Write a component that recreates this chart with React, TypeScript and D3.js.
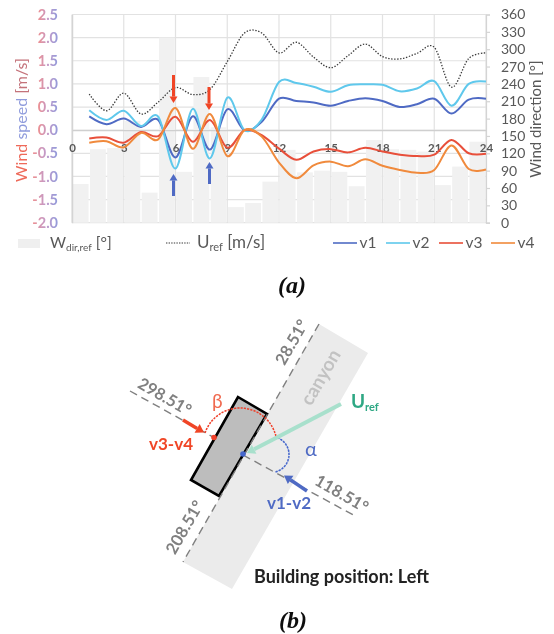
import React, { useRef, useEffect } from "react";
import {
  select,
  scaleLinear,
  scaleBand,
  line,
  arc,
  range,
  curveCardinal,
  axisLeft,
  axisRight,
  axisBottom,
} from "d3";

// hours the lines are sampled at, 1..24
const hours = range(1, 25);
const barHours = range(0, 24);
const speedTicks = [-2, -1.5, -1, -0.5, 0, 0.5, 1, 1.5, 2, 2.5];
const dirTicks = [0, 30, 60, 90, 120, 150, 180, 210, 240, 270, 300, 330, 360];
const hourTicks = [0, 3, 6, 9, 12, 15, 18, 21, 24];

const wdir = [67, 127, 129, 176, 52, 320, 88, 252, 165, 27, 34, 71, 126, 87, 90, 88, 63, 143, 127, 126, 123, 65, 97, 140];
const uref = [0.78, 0.42, 0.8, 0.35, 0.61, 0.92, 0.77, 0.88, 1.48, 2.1, 2.1, 1.67, 1.9, 1.58, 1.35, 1.61, 1.86, 1.59, 1.54, 1.66, 1.79, 0.93, 1.55, 1.67];
const v1 = [0.3, 0.13, 0.25, 0.07, 0.22, -0.59, 0.3, -0.42, 0.45, 0, 0.18, 0.68, 0.63, 0.6, 0.53, 0.63, 0.69, 0.63, 0.5, 0.56, 0.68, 0.36, 0.66, 0.68];
const v2 = [0.43, 0.22, 0.42, 0.09, 0.29, -0.83, 0.46, -0.61, 0.7, 0, 0.23, 1.04, 1.02, 0.94, 0.83, 0.97, 0.99, 0.98, 0.84, 0.9, 1.06, 0.53, 1.0, 1.05];
const v3 = [-0.18, -0.16, -0.27, -0.04, -0.13, 0.29, -0.25, 0.22, -0.38, 0, -0.11, -0.4, -0.64, -0.46, -0.41, -0.48, -0.38, -0.46, -0.53, -0.56, -0.53, -0.21, -0.5, -0.51];
const v4 = [-0.27, -0.24, -0.37, -0.06, -0.2, 0.48, -0.4, 0.35, -0.56, 0, -0.14, -0.7, -1.04, -0.76, -0.68, -0.78, -0.63, -0.77, -0.86, -0.92, -0.86, -0.33, -0.84, -0.85];

const BLUE = "#4f6bc4";
const CYAN = "#5fc8ec";
const RED = "#e8503a";
const ORANGE = "#f08a3c";
const GRAY = "#595959";
const ANGLE = "#808080";
const SANS = "Lato, sans-serif";

const series = [
  { name: "v1", values: v1, color: BLUE, legendX: 333 },
  { name: "v2", values: v2, color: CYAN, legendX: 386 },
  { name: "v3", values: v3, color: RED, legendX: 439 },
  { name: "v4", values: v4, color: ORANGE, legendX: 491 },
];

// chart frame
const left = 72;
const right = 486;
const top = 14.5;
const bottom = 222.7;

const xHour = scaleLinear().domain([0, 24]).range([left, right]);
const xBar = scaleBand<number>().domain(barHours).range([left, right]).paddingInner(0.08).paddingOuter(0.04);
const ySpeed = scaleLinear().domain([-2, 2.5]).range([bottom, top]);
const yDir = scaleLinear().domain([0, 360]).range([bottom, top]);

const makeLine = (values: number[]) =>
  line<number>()
    .x((_, i) => xHour(hours[i]))
    .y((d) => ySpeed(d))
    .curve(curveCardinal.tension(0))(values) || "";

// building sketch, panel (b)
const canyon = "319,324 368,353 232,589 183,562";
const building = "238,397 267,414 219,496 191,480";
const betaArc = arc()({ innerRadius: 37, outerRadius: 37, startAngle: (-71 * Math.PI) / 180, endAngle: (77 * Math.PI) / 180 }) || "";
const alphaArc = arc()({ innerRadius: 18, outerRadius: 18, startAngle: (13 * Math.PI) / 180, endAngle: (167 * Math.PI) / 180 }) || "";

const angleLabels = [
  { text: "28.51°", x: 293, y: 343, rotate: -60 },
  { text: "298.51°", x: 164, y: 398, rotate: 30 },
  { text: "118.51°", x: 341, y: 495, rotate: 30 },
  { text: "208.51°", x: 186, y: 528, rotate: -60 },
];

function Arrow({ x1, y1, x2, y2, color, width, head = 5 }: any) {
  // straight shaft with a triangular head at (x2, y2)
  const a = Math.atan2(y2 - y1, x2 - x1);
  const bx = x2 - Math.cos(a) * head * 1.6;
  const by = y2 - Math.sin(a) * head * 1.6;
  const nx = -Math.sin(a) * head;
  const ny = Math.cos(a) * head;
  return (
    <g>
      <line x1={x1} y1={y1} x2={bx} y2={by} stroke={color} strokeWidth={width} />
      <polygon points={`${x2},${y2} ${bx + nx},${by + ny} ${bx - nx},${by - ny}`} fill={color} />
    </g>
  );
}

export default function App() {
  const leftRef = useRef<SVGGElement>(null);
  const rightRef = useRef<SVGGElement>(null);
  const bottomRef = useRef<SVGGElement>(null);

  useEffect(() => {
    const gl = select(leftRef.current);
    gl.call(axisLeft(ySpeed).tickValues(speedTicks).tickFormat((d: any) => Number(d).toFixed(1)).tickSize(0).tickPadding(14) as any);
    gl.select(".domain").attr("stroke", "#d4d4d4").attr("stroke-width", 1.5);
    gl.selectAll("text")
      .attr("fill", "url(#speedTick)")
      .attr("font-family", SANS)
      .attr("font-size", 14.5)
      .attr("font-weight", 700);

    const gr = select(rightRef.current);
    gr.call(axisRight(yDir).tickValues(dirTicks).tickSize(4).tickPadding(11) as any);
    gr.selectAll(".domain, line").attr("stroke", "#d4d4d4").attr("stroke-width", 1.2);
    gr.selectAll("text").attr("fill", GRAY).attr("font-family", SANS).attr("font-size", 14);

    const gb = select(bottomRef.current);
    gb.call(axisBottom(xHour).tickValues(hourTicks).tickSize(0).tickPadding(13.5) as any);
    gb.select(".domain").attr("stroke", "#cfcfcf").attr("stroke-width", 1.2);
    gb.selectAll("text")
      .attr("fill", GRAY)
      .attr("font-family", SANS)
      .attr("font-size", 11.5)
      .attr("font-weight", 700);
  }, []);

  return (
    <svg
      width={554}
      height={634}
      style={{ position: "absolute", left: 0, top: 0 }}
      fontFamily={SANS}
    >
      <defs>
        <linearGradient id="speedTick" x1="0" x2="1" y1="0" y2="0">
          <stop offset="0" stopColor="#ee8f8f" />
          <stop offset="0.5" stopColor="#c49ac8" />
          <stop offset="1" stopColor="#8f9bdc" />
        </linearGradient>
        <filter id="soft" x="-2%" y="-2%" width="104%" height="104%">
          <feGaussianBlur stdDeviation="0.4" />
        </filter>
      </defs>

      <g filter="url(#soft)">
        {/* grid */}
        {speedTicks.map((t) => (
          <line key={t} x1={left} x2={right} y1={ySpeed(t)} y2={ySpeed(t)} stroke="#e2e2e2" strokeWidth={1.2} />
        ))}
        {hourTicks.map((t) => (
          <line key={t} x1={xHour(t)} x2={xHour(t)} y1={top} y2={bottom} stroke="#e2e2e2" strokeWidth={1.2} />
        ))}

        {/* wind direction bars */}
        {barHours.map((h, i) => (
          <rect
            key={h}
            x={xBar(h)}
            width={xBar.bandwidth()}
            y={yDir(wdir[i])}
            height={bottom - yDir(wdir[i])}
            fill="#f1f1f1"
          />
        ))}

        <g ref={leftRef} transform={`translate(${left},0)`} />
        <g ref={rightRef} transform={`translate(${right},0)`} />
        <g ref={bottomRef} transform={`translate(0,${ySpeed(0)})`} />

        {series.map((s) => (
          <path key={s.name} d={makeLine(s.values)} fill="none" stroke={s.color} strokeWidth={2} />
        ))}
        <path d={makeLine(uref)} fill="none" stroke="#3a3a3a" strokeWidth={1.3} strokeDasharray="1.4 1.6" />

        {/* arrows on the chart */}
        <Arrow x1={173.5} y1={75} x2={173.5} y2={103} color="#f04525" width={3} head={4} />
        <Arrow x1={209} y1={87} x2={209} y2={110} color="#f04525" width={3} head={4} />
        <Arrow x1={173.5} y1={196} x2={173.5} y2={174} color={BLUE} width={3} head={4} />
        <Arrow x1={209.5} y1={184} x2={209.5} y2={162} color={BLUE} width={3} head={4} />

        {/* axis titles */}
        <text transform="translate(27,120) rotate(-90)" textAnchor="middle" fontSize={16}>
          <tspan fill="#ee6a5a">Wind </tspan>
          <tspan fill="#8f9bdc">speed </tspan>
          <tspan fill="#c4727a">[m/s]</tspan>
        </text>
        <text transform="translate(541,119) rotate(-90)" textAnchor="middle" fontSize={15} fill={GRAY}>
          Wind direction [°]
        </text>

        {/* legend */}
        <rect x={18} y={239} width={22} height={9} fill="#efefef" />
        <text x={50} y={248} fontSize={15.5} fill={GRAY}>
          W<tspan fontSize={10} dy={2.5}>dir,ref</tspan>
          <tspan dy={-2.5}> [°]</tspan>
        </text>
        <line x1={166} x2={190} y1={243} y2={243} stroke="#3a3a3a" strokeWidth={1.2} strokeDasharray="1.4 1.2" />
        <text x={197} y={248} fontSize={17} fill={GRAY}>
          U<tspan fontSize={11} dy={2.5}>ref</tspan>
          <tspan dy={-2.5}> [m/s]</tspan>
        </text>
        {series.map((s) => (
          <g key={s.name}>
            <line x1={s.legendX} x2={s.legendX + 24} y1={243} y2={243} stroke={s.color} strokeWidth={1.6} />
            <text x={s.legendX + 26.5} y={248} fontSize={15.5} fill={GRAY}>
              {s.name}
            </text>
          </g>
        ))}

        <text x={292} y={293} textAnchor="middle" fontFamily="'Liberation Serif', serif" fontStyle="italic" fontWeight={700} fontSize={24} fill="#111">
          (a)
        </text>

        {/* panel (b) */}
        <polygon points={canyon} fill="#ebebeb" />
        <text transform="translate(322,378) rotate(-60)" textAnchor="middle" dominantBaseline="middle" fontSize={19} fontWeight={700} fill="#c2c2c2">
          canyon
        </text>
        <polygon points={building} fill="#bdbdbd" stroke="#000" strokeWidth={2.6} strokeLinejoin="miter" />
        <line x1={319} y1={324} x2={183} y2={562} stroke={ANGLE} strokeWidth={1.4} strokeDasharray="8 5" />
        <line x1={130} y1={391} x2={213} y2={437} stroke={ANGLE} strokeWidth={1.4} strokeDasharray="8 5" />
        <line x1={243} y1={455} x2={357} y2={517} stroke={ANGLE} strokeWidth={1.4} strokeDasharray="8 5" />

        <path d={betaArc} transform="translate(240,445)" fill="none" stroke="#f0402a" strokeWidth={1.5} strokeDasharray="1.5 1.8" />
        <path d={alphaArc} transform="translate(271,454.5)" fill="none" stroke="#4466cc" strokeWidth={1.5} strokeDasharray="1.5 1.8" />
        <circle cx={214} cy={437.5} r={2.8} fill="#f0402a" />
        <circle cx={243} cy={454} r={2.8} fill="#4466cc" />

        <Arrow x1={341} y1={404} x2={247} y2={453} color="#a8e0cc" width={4} head={5} />
        <Arrow x1={183} y1={420} x2={204} y2={432.5} color="#f04525" width={3.5} head={5} />
        <Arrow x1={307} y1={491} x2={284} y2={475.5} color={BLUE} width={3.5} head={5} />

        <text x={351} y={408} fontSize={19} fontWeight={700} fill="#2fa884">
          U<tspan fontSize={11} dy={3}>ref</tspan>
        </text>
        <text x={149} y={450} fontSize={17} fontWeight={700} fill="#f04525">
          v3-v4
        </text>
        <text x={267} y={509} fontSize={17} fontWeight={700} fill={BLUE}>
          v1-v2
        </text>
        <text x={212} y={408} fontSize={19} fill="#f06a50">
          β
        </text>
        <text x={305} y={456} fontSize={20} fill={BLUE}>
          α
        </text>

        {angleLabels.map((d) => (
          <text
            key={d.text}
            transform={`translate(${d.x},${d.y}) rotate(${d.rotate})`}
            textAnchor="middle"
            dominantBaseline="middle"
            fontSize={16.5}
            fontWeight={700}
            fill={ANGLE}
          >
            {d.text}
          </text>
        ))}

        <text x={254} y={583} fontSize={18} fontWeight={700} fill="#222">
          Building position: Left
        </text>
        <text x={293} y={628} textAnchor="middle" fontFamily="'Liberation Serif', serif" fontStyle="italic" fontWeight={700} fontSize={24} fill="#111">
          (b)
        </text>
      </g>
    </svg>
  );
}
